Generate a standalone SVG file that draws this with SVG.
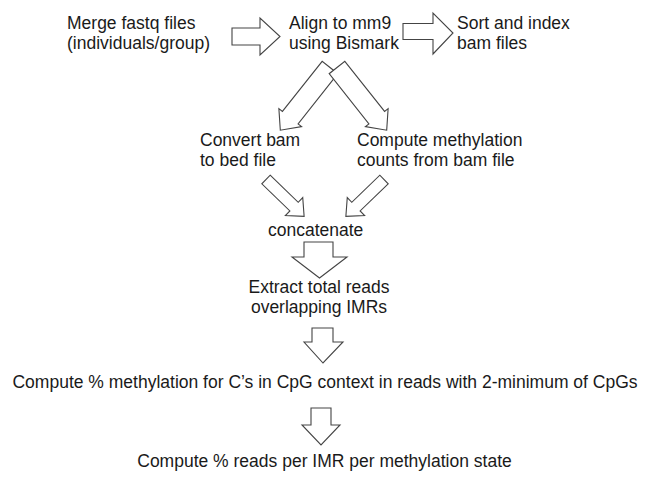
<svg xmlns="http://www.w3.org/2000/svg" width="650" height="478" viewBox="0 0 650 478">
<style>
.t{font-family:"Liberation Sans",Arial,Helvetica,sans-serif;font-size:17.5px;fill:#1a1a1a}
.m{text-anchor:middle}
.a{fill:#fff;stroke:#444;stroke-width:1.1;stroke-linejoin:miter}
</style>
<rect width="650" height="478" fill="#fff"/>
<g id="connectors">
<path class="a" d="M232,28 L260,28 L260,18 L280,36.5 L260,55 L260,45 L232,45 Z"/>
<path class="a" d="M403,23.5 L433,23.5 L433,13 L453,33 L433,54 L433,39.5 L403,39.5 Z"/>
<g transform="translate(330,67.5) rotate(128.4)"><path class="a" d="M0,-10 L64,-10 L64,-14.5 L80,0 L64,14.5 L64,10 L0,10 Z"/></g>
<g transform="translate(337,67.5) rotate(51.6)"><path class="a" d="M0,-10 L64,-10 L64,-14.5 L80,0 L64,14.5 L64,10 L0,10 Z"/></g>
<g transform="translate(266,179.5) rotate(44)"><path class="a" d="M0,-6 L39,-6 L39,-12.5 L53,0 L39,12.5 L39,6 L0,6 Z"/></g>
<g transform="translate(384,179.5) rotate(136)"><path class="a" d="M0,-6 L39,-6 L39,-12.5 L53,0 L39,12.5 L39,6 L0,6 Z"/></g>
<path class="a" d="M304,242 L333,242 L333,257 L347,257 L319.5,278 L292,257 L304,257 Z"/>
<path class="a" d="M312,328 L333,328 L333,342 L343,342 L323,363 L304,342 L312,342 Z"/>
<path class="a" d="M311,408 L331,408 L331,425 L340,425 L321,445 L302,425 L311,425 Z"/>
</g>
<g id="merge"><text class="t" x="67" y="29">Merge fastq files</text><text class="t" x="67" y="49">(individuals/group)</text></g>
<g id="align"><text class="t" x="289" y="29">Align to mm9</text><text class="t" x="289" y="49">using Bismark</text></g>
<g id="sort"><text class="t" x="457" y="29">Sort and index</text><text class="t" x="457" y="49">bam files</text></g>
<g id="convert"><text class="t" x="200" y="146">Convert bam</text><text class="t" x="200" y="166">to bed file</text></g>
<g id="compute-counts"><text class="t" x="357" y="146">Compute methylation</text><text class="t" x="357" y="166">counts from bam file</text></g>
<g id="concatenate"><text class="t" x="268" y="236">concatenate</text></g>
<g id="extract"><text class="t m" x="319" y="293">Extract total reads</text><text class="t m" x="319" y="313">overlapping IMRs</text></g>
<g id="compute-pct"><text class="t m" x="325" y="388">Compute % methylation for C’s in CpG context in reads with 2-minimum of CpGs</text></g>
<g id="compute-reads"><text class="t m" x="324.5" y="467">Compute % reads per IMR per methylation state</text></g>
</svg>
